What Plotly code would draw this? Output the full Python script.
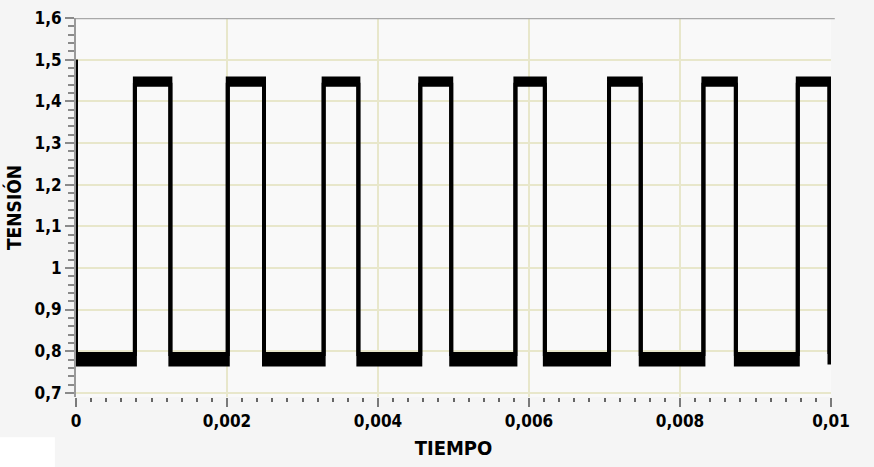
import plotly.graph_objects as go

# Square wave (seconds / volts)
RISE_T = [0.00078, 0.00201, 0.00328, 0.00456, 0.00582, 0.00706, 0.00831, 0.00956]
FALL_T = [0.00125, 0.00249, 0.00374, 0.00497, 0.00621, 0.00748, 0.00874, 0.00998]
START_V = 1.5
LOW_BAND = [0.768, 0.793]    # min / max of the noisy low level
HIGH_BAND = [1.440, 1.455]   # min / max of the noisy high level

X_TICKS = [0, 0.002, 0.004, 0.006, 0.008, 0.01]
Y_TICKS = [0.7, 0.8, 0.9, 1.0, 1.1, 1.2, 1.3, 1.4, 1.5, 1.6]

FONT = 'DejaVu Sans Condensed'


def envelope(low, high):
    xs, ys = [0, 0], [START_V, low]
    for r, f in zip(RISE_T, FALL_T):
        xs += [r, r, f, f]
        ys += [low, high, high, low]
    return xs, ys


x_top, y_top = envelope(LOW_BAND[1], HIGH_BAND[1])
x_bot, y_bot = envelope(LOW_BAND[0], HIGH_BAND[0])

fig = go.Figure()
fig.add_trace(go.Scatter(x=x_top, y=y_top, mode='lines', line=dict(color='black', width=4),
                         showlegend=False, hoverinfo='skip'))
fig.add_trace(go.Scatter(x=x_bot, y=y_bot, mode='lines', line=dict(color='black', width=4),
                         fill='tonexty', fillcolor='black', showlegend=False))

fig.update_layout(
    width=874, height=467,
    margin=dict(l=76, r=43, t=18, b=70),
    paper_bgcolor='#f5f5f5', plot_bgcolor='#f9f9f9',
    separators=',.',
    font=dict(family=FONT, size=17, color='black'),
    xaxis=dict(
        range=[0, 0.01], tickvals=X_TICKS, exponentformat='none', automargin=False,
        showgrid=True, gridcolor='#e8e7cb', gridwidth=1.5, zeroline=False,
        showline=False, ticks='outside', ticklen=9, tickwidth=2, tickcolor='#7a7a7a',
        minor=dict(dtick=0.0002, ticks='outside', ticklen=4, tickwidth=2, tickcolor='#666', showgrid=False),
        tickfont=dict(family=FONT, size=17, weight='bold'),
        title=dict(text='TIEMPO', font=dict(family=FONT, size=20, weight='bold'), standoff=10),
    ),
    yaxis=dict(
        range=[0.69, 1.6], tickvals=Y_TICKS, automargin=False,
        showgrid=True, gridcolor='#e8e7cb', gridwidth=1.5, zeroline=False,
        showline=True, linecolor='#9a9a9a', linewidth=2,
        ticks='outside', ticklen=9, tickwidth=2, tickcolor='#8a8a8a',
        minor=dict(dtick=0.02, ticks='outside', ticklen=6, tickwidth=2, tickcolor='#8a8a8a', showgrid=False),
        tickfont=dict(family=FONT, size=17, weight='bold'),
        title=dict(text='TENSIÓN', font=dict(family=FONT, size=19, weight='bold'), standoff=8),
    ),
    shapes=[
        dict(type='line', xref='paper', yref='y', x0=0, x1=1.005, y0=1.6, y1=1.6,
             line=dict(color='#a8a8a8', width=2.5)),
        dict(type='rect', xref='paper', yref='paper', x0=-0.101, x1=-0.028, y0=-0.185, y1=-0.106,
             fillcolor='white', line=dict(width=0), layer='below'),
    ],
)

# the page's default 8px body margin would shift the figure
fig.write_html('out.html', config={'displayModeBar': False},
               post_script="document.body.style.margin='0';")
